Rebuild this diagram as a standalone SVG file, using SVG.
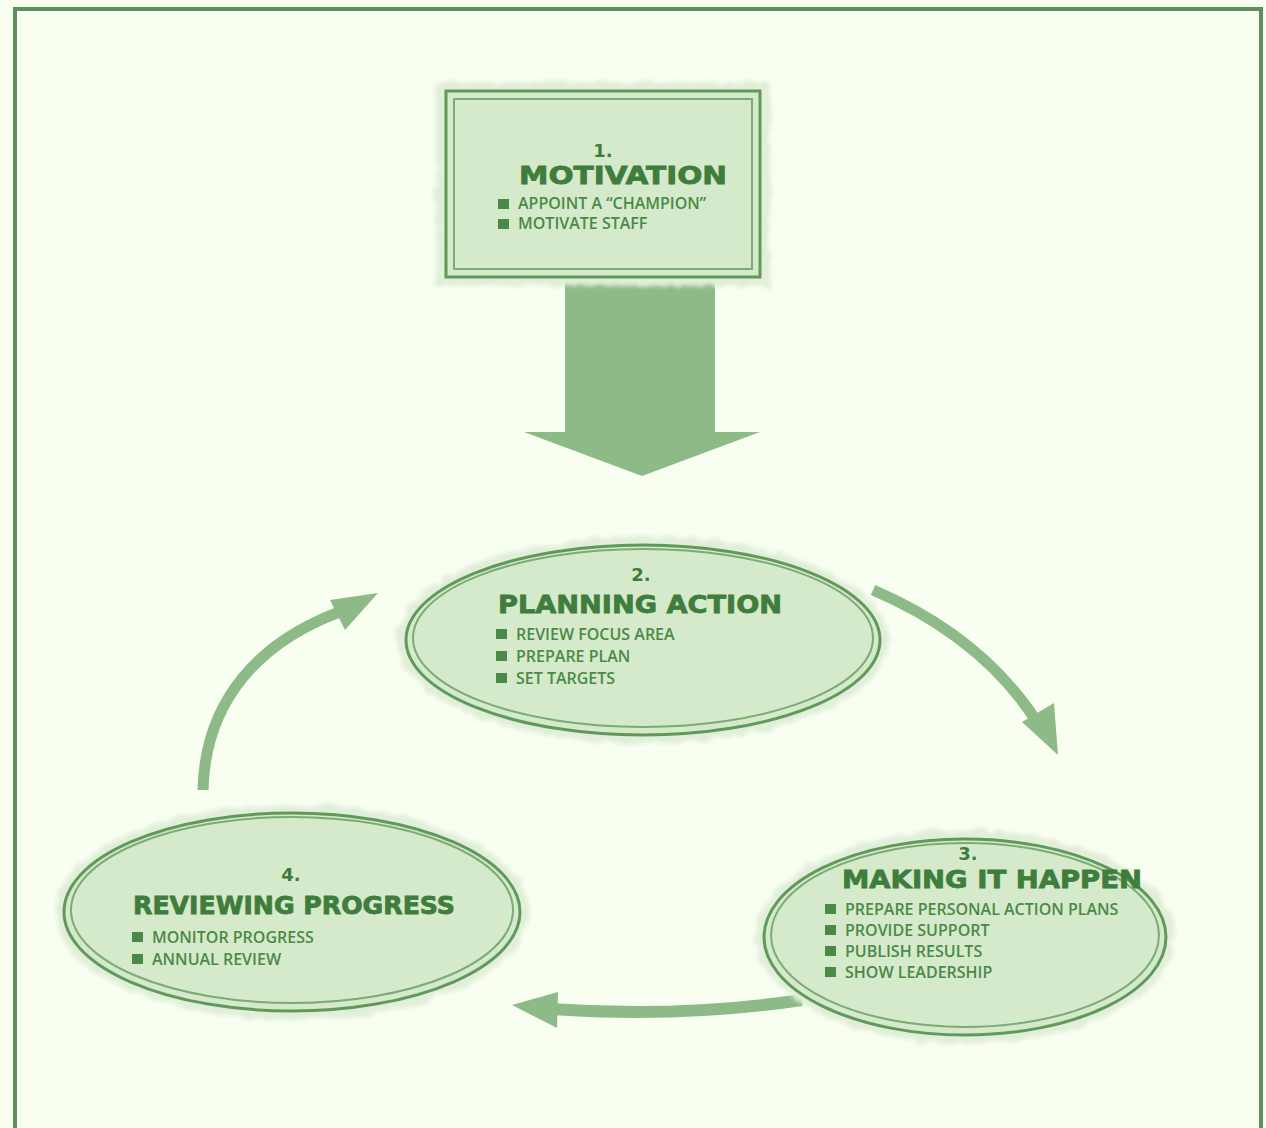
<svg xmlns="http://www.w3.org/2000/svg" width="1266" height="1128" viewBox="0 0 1266 1128">
<defs>
<filter id="fuzz" x="-10%" y="-10%" width="120%" height="120%">
<feTurbulence type="fractalNoise" baseFrequency="0.08" numOctaves="2" seed="3" result="n"/>
<feDisplacementMap in="SourceGraphic" in2="n" scale="10" xChannelSelector="R" yChannelSelector="G" result="d"/>
<feGaussianBlur in="d" stdDeviation="2"/>
</filter>
<style>
.bg{fill:#f8fff1}
.frame{fill:none;stroke:#5f8f5c;stroke-width:4}
.halo{fill:#e1eed9;filter:url(#fuzz)}
.fill{fill:#d5e9cb}
.ol{fill:none;stroke:#5f9a5b;stroke-width:3}
.ol2{fill:none;stroke:#7aac74;stroke-width:2}
.num{font-family:"DejaVu Sans",sans-serif;font-weight:bold;font-size:18px;fill:#3f7d3c;text-anchor:middle}
.title{font-family:"DejaVu Sans",sans-serif;font-weight:bold;font-size:25px;fill:#3f7d3c;text-anchor:middle;stroke:#3f7d3c;stroke-width:0.8}
.item{font-family:"Open Sans",sans-serif;font-weight:600;font-size:16px;fill:#4a8a46}
.bul{fill:#4a8a46}
.arr{fill:none;stroke:#8dba87;stroke-linecap:butt}
.ah{fill:#8dba87}
</style>
</defs>
<rect class="bg" x="0" y="0" width="1266" height="1128"/>
<rect class="frame" x="15" y="9" width="1246" height="1130"/>

<g id="connectors">
<path class="ah" d="M565,276 H715 V432 H760 L642,476 L524,432 H565 Z"/>
<path class="arr" stroke-width="11" d="M873,590 Q990,640 1045,735"/>
<path class="ah" d="M1058,755 L1022,722 L1054,703 Z"/>
<path class="arr" stroke-width="12" d="M802,1000 Q680,1018 550,1009"/>
<path class="ah" d="M512,1005 L558,992 L557,1028 Z"/>
<path class="arr" stroke-width="11" d="M203,790 C205,700 260,640 345,610"/>
<path class="ah" d="M378,593 L330,600 L345,630 Z"/>
</g>

<g id="node1">
<rect class="halo" x="436" y="82" width="334" height="204"/>
<rect class="fill" x="446" y="91" width="314" height="186"/>
<rect class="ol" x="446" y="91" width="314" height="186"/>
<rect class="ol2" x="454" y="99" width="298" height="170"/>
<text class="num" x="603" y="157">1.</text>
<text class="title" x="623" y="184" textLength="208" lengthAdjust="spacingAndGlyphs">MOTIVATION</text>
<rect class="bul" x="498" y="199" width="11" height="10"/>
<text class="item" x="518" y="209">APPOINT A “CHAMPION”</text>
<rect class="bul" x="498" y="219" width="11" height="10"/>
<text class="item" x="518" y="229">MOTIVATE STAFF</text>
</g>

<g id="node2">
<ellipse class="halo" cx="643" cy="640" rx="246" ry="104"/>
<ellipse class="fill" cx="643" cy="640" rx="237" ry="95"/>
<ellipse class="ol" cx="643" cy="640" rx="237" ry="95"/>
<ellipse class="ol2" cx="643" cy="638" rx="230" ry="89"/>
<text class="num" x="641" y="581">2.</text>
<text class="title" x="640" y="613" textLength="284" lengthAdjust="spacingAndGlyphs">PLANNING ACTION</text>
<rect class="bul" x="496" y="629" width="11" height="10"/>
<text class="item" x="516" y="640">REVIEW FOCUS AREA</text>
<rect class="bul" x="496" y="651" width="11" height="10"/>
<text class="item" x="516" y="662">PREPARE PLAN</text>
<rect class="bul" x="496" y="673" width="11" height="10"/>
<text class="item" x="516" y="684">SET TARGETS</text>
</g>

<g id="node3">
<ellipse class="halo" cx="965" cy="937" rx="210" ry="107"/>
<ellipse class="fill" cx="965" cy="937" rx="201" ry="98"/>
<ellipse class="ol" cx="965" cy="937" rx="201" ry="98"/>
<ellipse class="ol2" cx="965" cy="935" rx="194" ry="92"/>
<text class="num" x="968" y="860">3.</text>
<text class="title" x="992" y="888" textLength="300" lengthAdjust="spacingAndGlyphs">MAKING IT HAPPEN</text>
<rect class="bul" x="825" y="904" width="11" height="10"/>
<text class="item" x="845" y="915">PREPARE PERSONAL ACTION PLANS</text>
<rect class="bul" x="825" y="925" width="11" height="10"/>
<text class="item" x="845" y="936">PROVIDE SUPPORT</text>
<rect class="bul" x="825" y="946" width="11" height="10"/>
<text class="item" x="845" y="957">PUBLISH RESULTS</text>
<rect class="bul" x="825" y="967" width="11" height="10"/>
<text class="item" x="845" y="978">SHOW LEADERSHIP</text>
</g>

<g id="node4">
<ellipse class="halo" cx="292" cy="912" rx="237" ry="108"/>
<ellipse class="fill" cx="292" cy="912" rx="228" ry="99"/>
<ellipse class="ol" cx="292" cy="912" rx="228" ry="99"/>
<ellipse class="ol2" cx="292" cy="910" rx="221" ry="93"/>
<text class="num" x="291" y="881">4.</text>
<text class="title" x="294" y="914" textLength="322" lengthAdjust="spacingAndGlyphs">REVIEWING PROGRESS</text>
<rect class="bul" x="132" y="932" width="11" height="10"/>
<text class="item" x="152" y="943">MONITOR PROGRESS</text>
<rect class="bul" x="132" y="954" width="11" height="10"/>
<text class="item" x="152" y="965">ANNUAL REVIEW</text>
</g>
</svg>
